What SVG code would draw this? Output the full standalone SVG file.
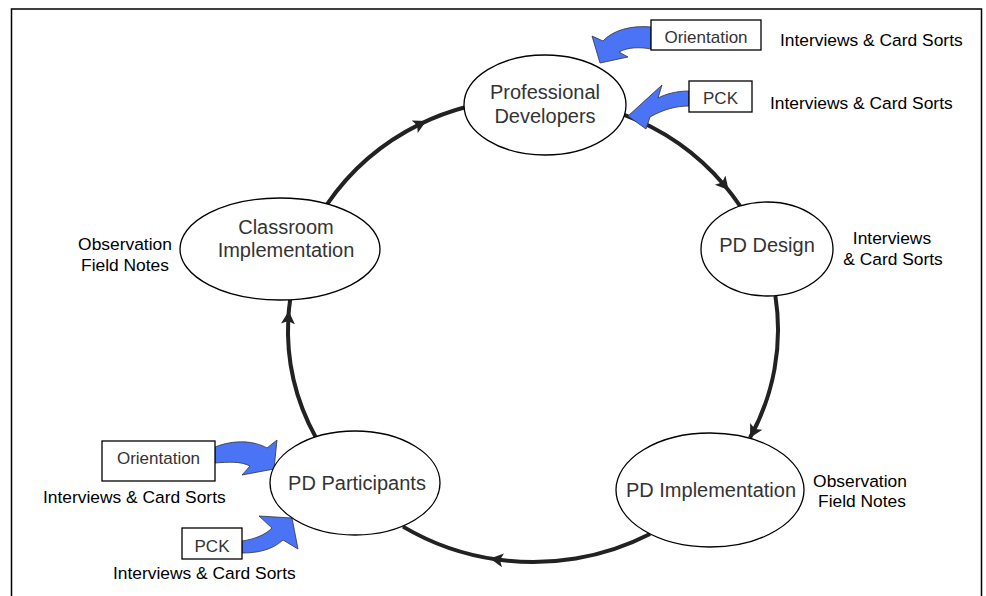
<svg xmlns="http://www.w3.org/2000/svg" width="986" height="596" viewBox="0 0 986 596">
<style>
.node{fill:#fff;stroke:#000;stroke-width:1.3}
.box{fill:#fff;stroke:#000;stroke-width:1.3}
.lbl{font-family:"Liberation Sans",Arial,sans-serif;font-size:20px;fill:#333;text-anchor:middle}
.btxt{font-family:"Liberation Sans",Arial,sans-serif;font-size:17px;fill:#333;text-anchor:middle}
.note{font-family:"Liberation Sans",Arial,sans-serif;font-size:17.4px;fill:#000}
.conn{fill:none;stroke:#222;stroke-width:4}
.blue{fill:#4a74f5;stroke:#333;stroke-width:0.8;stroke-linejoin:miter}
</style>
<defs>
<marker id="mid" markerUnits="userSpaceOnUse" markerWidth="16" markerHeight="16" refX="6" refY="7" orient="auto">
<path d="M0,0 L13,7 L0,14 L3,7 Z" fill="#222"/>
</marker>
<marker id="end" markerUnits="userSpaceOnUse" markerWidth="16" markerHeight="16" refX="13" refY="7" orient="auto">
<path d="M0,0 L13,7 L0,14 L3,7 Z" fill="#222"/>
</marker>
</defs>
<rect x="11.5" y="9" width="970" height="600" fill="#fff" stroke="#000" stroke-width="1.5"/>

<g id="connectors">
<path class="conn" marker-mid="url(#mid)" d="M327,204.4 A245 232 0 0 1 420,124.1 A245 232 0 0 1 466,107"/>
<path class="conn" marker-mid="url(#mid)" d="M623,114.3 A245 232 0 0 1 724,184.7 A245 232 0 0 1 740,205.9"/>
<path class="conn" marker-end="url(#end)" d="M775.4,296 A245 232 0 0 1 750,437.7"/>
<path class="conn" marker-mid="url(#mid)" d="M650,534 A245 232 0 0 1 497,559.5 A245 232 0 0 1 403,526.6"/>
<path class="conn" marker-mid="url(#mid)" d="M316,437.7 A245 232 0 0 1 288.3,318 A245 232 0 0 1 290.2,299.5"/>
<path class="blue" d="M651,27 C630,25 612,31 603,41 L592,36 L600,63 L628,57 L619,52 C628,47 640,47 651,49 Z"/>
<path class="blue" d="M689,91 C676,91 666,94 658,98 L662,85 L628,116 L646,129 L650,117 C664,109 677,106 689,106 Z"/>
<path class="blue" d="M215,447 C235,439 255,441 267,448 L277,440 L274,469 L242,475 L250,466 C240,461 228,462 215,463 Z"/>
<path class="blue" d="M242,541 C255,539 265,535 272,528 L259,516 L292,518 L298,549 L283,540 C272,550 258,553 242,553 Z"/>
</g>

<g id="n-prof">
<ellipse class="node" cx="545" cy="105" rx="81" ry="50"/>
<text class="lbl" x="545" y="99">Professional</text>
<text class="lbl" x="545" y="123">Developers</text>
</g>
<g id="n-design">
<ellipse class="node" cx="767" cy="249" rx="66" ry="47"/>
<text class="lbl" x="767" y="252">PD Design</text>
</g>
<g id="n-impl">
<ellipse class="node" cx="710" cy="490" rx="94" ry="57"/>
<text class="lbl" x="711" y="497">PD Implementation</text>
</g>
<g id="n-part">
<ellipse class="node" cx="355" cy="483" rx="85" ry="52"/>
<text class="lbl" x="357" y="490">PD Participants</text>
</g>
<g id="n-class">
<ellipse class="node" cx="280" cy="249" rx="100" ry="51"/>
<text class="lbl" x="286" y="234">Classroom</text>
<text class="lbl" x="286" y="257">Implementation</text>
</g>

<g id="b-orient-top">
<rect class="box" x="651" y="20" width="110" height="30"/>
<text class="btxt" x="706" y="43">Orientation</text>
</g>
<g id="b-pck-top">
<rect class="box" x="689" y="81" width="63" height="31"/>
<text class="btxt" x="720.5" y="104">PCK</text>
</g>
<g id="b-orient-bot">
<rect class="box" x="102" y="441" width="113" height="40"/>
<text class="btxt" x="158.5" y="464">Orientation</text>
</g>
<g id="b-pck-bot">
<rect class="box" x="182" y="528" width="60" height="31"/>
<text class="btxt" x="212" y="552">PCK</text>
</g>

<g id="notes">
<text class="note" x="780" y="46">Interviews &amp; Card Sorts</text>
<text class="note" x="770" y="109">Interviews &amp; Card Sorts</text>
<text class="note" x="892" y="244" text-anchor="middle">Interviews</text>
<text class="note" x="893" y="265" text-anchor="middle">&amp; Card Sorts</text>
<text class="note" x="860" y="487" text-anchor="middle">Observation</text>
<text class="note" x="862" y="507" text-anchor="middle">Field Notes</text>
<text class="note" x="125" y="250" text-anchor="middle">Observation</text>
<text class="note" x="125" y="271" text-anchor="middle">Field Notes</text>
<text class="note" x="43" y="503">Interviews &amp; Card Sorts</text>
<text class="note" x="113" y="579">Interviews &amp; Card Sorts</text>
</g>
</svg>
